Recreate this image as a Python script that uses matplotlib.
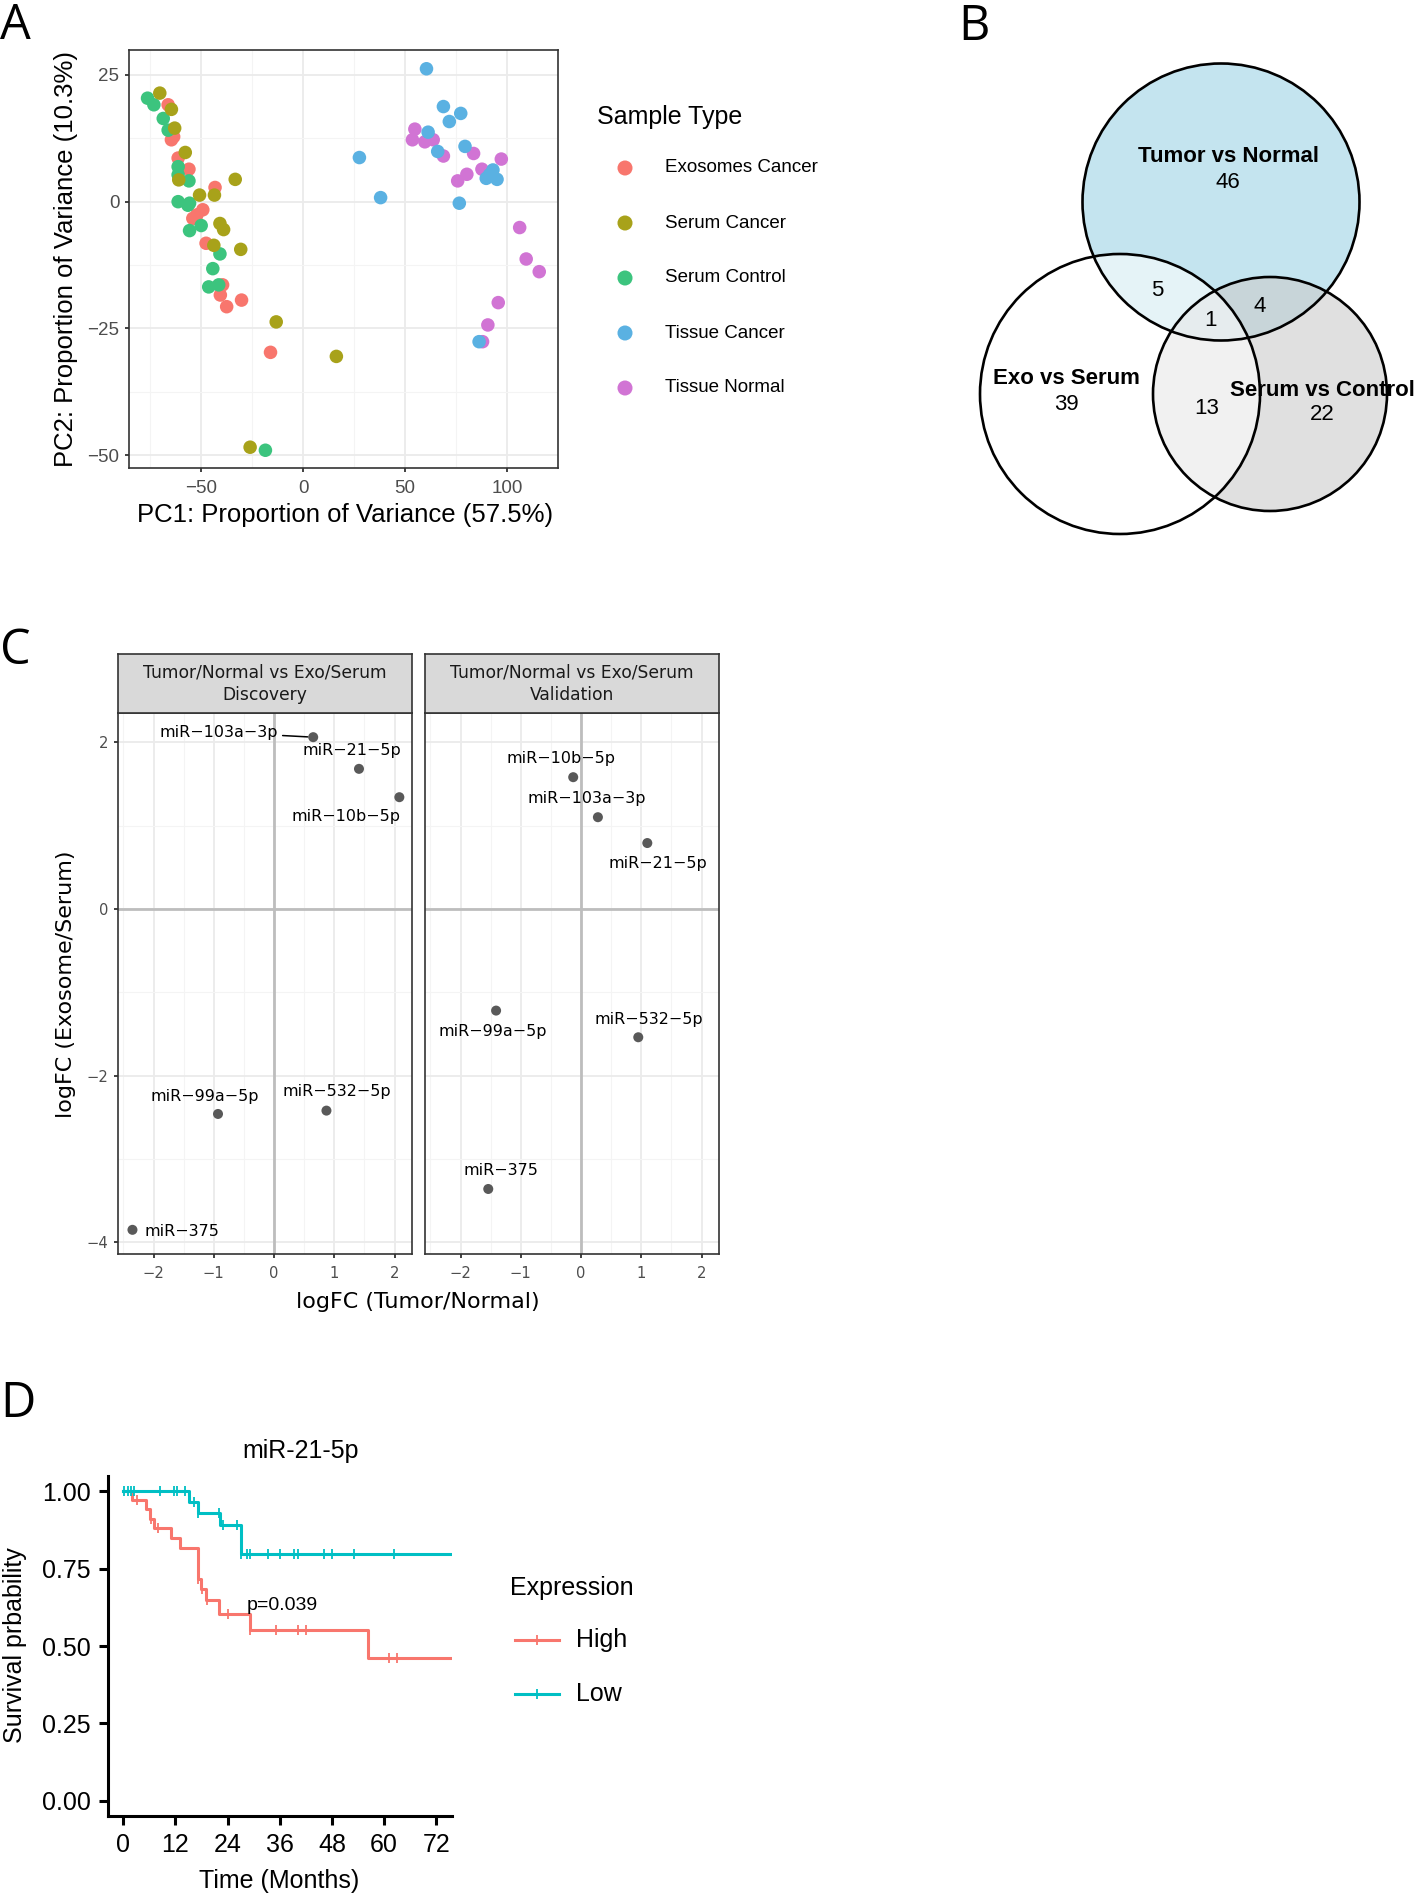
import numpy as np
import matplotlib.pyplot as plt
from matplotlib.patches import Circle
from matplotlib.lines import Line2D

# ---------------- data ----------------
# A: PCA of miRNA profiles
sample_types = ["Exosomes Cancer", "Serum Cancer", "Serum Control", "Tissue Cancer", "Tissue Normal"]
type_colors = ["#F8766D", "#A8A21A", "#3CC47E", "#5AB1E2", "#D174D4"]

exo_cancer_pc1 = [-66.2, -63.5, -64.6, -61.3, -56.0, -43.2, -49.2, -52.1, -54.1, -47.6, -39.5, -40.6, -37.5, -30.2, -16.0]
exo_cancer_pc2 = [19.1, 12.8, 12.2, 8.6, 6.4, 2.8, -1.6, -2.6, -3.3, -8.2, -16.4, -18.4, -20.7, -19.4, -29.7]
serum_cancer_pc1 = [-70.3, -64.6, -63.0, -57.8, -61.0, -33.3, -43.5, -50.8, -40.8, -39.0, -43.8, -30.6, -13.2, 16.3, -26.0]
serum_cancer_pc2 = [21.4, 18.2, 14.5, 9.7, 4.3, 4.4, 1.3, 1.3, -4.3, -5.5, -8.6, -9.4, -23.7, -30.5, -48.4]
serum_control_pc1 = [-76.3, -73.2, -68.6, -66.2, -61.3, -61.3, -56.0, -61.3, -56.5, -55.7, -55.7, -50.0, -40.8, -44.3, -46.3, -41.4, -18.5]
serum_control_pc2 = [20.4, 19.1, 16.4, 14.1, 6.9, 5.3, 4.1, 0.0, -0.7, -0.3, -5.7, -4.7, -10.3, -13.2, -16.8, -16.4, -49.0]
tissue_cancer_pc1 = [60.5, 68.8, 77.3, 71.7, 61.3, 66.0, 79.4, 27.6, 38.0, 76.6, 89.8, 93.1, 95.1, 91.4, 86.3]
tissue_cancer_pc2 = [26.2, 18.75, 17.4, 15.8, 13.7, 9.9, 10.9, 8.7, 0.8, -0.3, 4.6, 6.25, 4.4, 5.3, -27.6]
tissue_normal_pc1 = [54.8, 53.6, 59.7, 63.8, 68.8, 83.6, 87.7, 80.3, 75.8, 97.2, 106.2, 109.4, 115.8, 95.7, 90.6, 88.0]
tissue_normal_pc2 = [14.3, 12.2, 11.8, 12.2, 9.0, 9.5, 6.4, 5.4, 4.1, 8.4, -5.1, -11.3, -13.8, -19.9, -24.3, -27.6]

# B: Venn counts
venn_names = ["Tumor vs Normal", "Exo vs Serum", "Serum vs Control"]
venn_only = [46, 39, 22]
n_tumor_exo = 5
n_tumor_serum = 4
n_exo_serum = 13
n_all = 1

# C: logFC comparison
mirs = ["miR\u2212103a\u22123p", "miR\u221221\u22125p", "miR\u221210b\u22125p",
        "miR\u221299a\u22125p", "miR\u2212532\u22125p", "miR\u2212375"]
disc_tn = [0.65, 1.41, 2.08, -0.93, 0.87, -2.35]
disc_es = [2.06, 1.68, 1.34, -2.46, -2.42, -3.85]
val_tn = [0.28, 1.10, -0.13, -1.41, 0.95, -1.54]
val_es = [1.10, 0.79, 1.58, -1.22, -1.54, -3.36]
disc_lab_x = [-0.91, 1.29, 1.20, -1.15, 1.05, -1.53]
disc_lab_y = [2.12, 1.90, 1.11, -2.25, -2.19, -3.87]
val_lab_x = [0.09, 1.27, -0.34, -1.47, 1.12, -1.33]
val_lab_y = [1.32, 0.55, 1.80, -1.47, -1.33, -3.14]

# D: Kaplan-Meier, miR-21-5p
high_t = [0, 2.0, 5.3, 6.2, 7.0, 11.1, 13.1, 17.2, 18.0, 19.0, 22.0, 29.1, 56.3, 80]
high_s = [1.0, 0.972, 0.942, 0.912, 0.881, 0.849, 0.817, 0.717, 0.685, 0.648, 0.602, 0.551, 0.461, 0.461]
high_cens_t = [3.1, 6.3, 8.1, 17.2, 18.2, 19.2, 24.1, 29.1, 35.2, 40.1, 42.1, 61.2, 62.9]
low_t = [0, 15.2, 17.1, 22.2, 27.1, 80]
low_s = [1.0, 0.965, 0.931, 0.893, 0.798, 0.798]
low_cens_t = [0.15, 1.07, 1.83, 2.6, 8.4, 11.6, 12.3, 14.2, 16.2, 17.1, 22.0, 23.0, 26.2,
              27.1, 28.4, 29.1, 33.2, 36.1, 39.3, 40.1, 46.2, 48.1, 53.0, 62.2]
p_value = 0.039

# ---------------- figure ----------------
W, H = 1416, 1895
fig = plt.figure(figsize=(W / 100, H / 100), dpi=100)
SANS = ["Liberation Sans", "DejaVu Sans"]
DJ = ["DejaVu Sans"]


def px_axes(x0, y0, x1, y1, **kw):
    return fig.add_axes([x0 / W, 1 - y1 / H, (x1 - x0) / W, (y1 - y0) / H], **kw)


def surv_at(times, surv, pts):
    # survival level of a step curve at each censoring time
    return [surv[np.searchsorted(times, t, side="right") - 1] for t in pts]


ov = px_axes(0, 0, W, H, zorder=-5)
ov.set_xlim(0, W)
ov.set_ylim(H, 0)
ov.axis("off")

for lab, x, y in [("A", 0, 39), ("B", 958, 40), ("C", 0, 664), ("D", 0, 1417)]:
    ov.text(x, y, lab, fontsize=35, family=["Open Sans", "DejaVu Sans"], va="baseline", ha="left")


def bw_style(ax, fam, tsize, pad):
    for s in ax.spines.values():
        s.set_color("#333333")
        s.set_linewidth(1.2)
    ax.grid(which="major", color="#ebebeb", lw=1.3, zorder=0)
    ax.grid(which="minor", color="#f4f4f4", lw=0.8, zorder=0)
    ax.set_axisbelow(True)
    ax.tick_params(which="major", length=3, width=1.3, color="#333333", labelsize=tsize,
                   labelcolor="#4d4d4d", pad=pad)
    ax.tick_params(which="minor", length=0)
    for t in ax.get_xticklabels() + ax.get_yticklabels():
        t.set_family(fam)


# ---- A ----
axA = px_axes(129, 50, 558, 468)
groups = [(exo_cancer_pc1, exo_cancer_pc2, 0), (serum_control_pc1, serum_control_pc2, 2),
          (serum_cancer_pc1, serum_cancer_pc2, 1), (tissue_normal_pc1, tissue_normal_pc2, 4),
          (tissue_cancer_pc1, tissue_cancer_pc2, 3)]
for xs, ys, k in groups:
    axA.scatter(xs, ys, s=95, color=type_colors[k], edgecolors="none", zorder=3)
axA.set_xlim(-85.4, 125)
axA.set_ylim(-52.5, 29.9)
axA.set_xticks([-50, 0, 50, 100])
axA.set_xticks([-75, -25, 25, 75, 125], minor=True)
axA.set_yticks([-50, -25, 0, 25])
axA.set_yticks([-37.5, -12.5, 12.5], minor=True)
bw_style(axA, SANS, 13.5, 4)
axA.tick_params(axis="x", pad=5.5)
ov.text(345, 515, "PC1: Proportion of Variance (57.5%)", fontsize=18.5, family=SANS, ha="center", va="center")
ov.text(66, 259, "PC2: Proportion of Variance (10.3%)", fontsize=18.5, family=SANS, ha="center",
        va="center", rotation=90)
ov.text(597, 117, "Sample Type", fontsize=18, family=SANS, ha="left", va="center")
for i, name in enumerate(sample_types):
    y = 168 + i * 55
    ov.scatter([625], [y], s=117, color=type_colors[i], edgecolors="none")
    ov.text(665, y, name, fontsize=13.5, family=SANS, ha="left", va="center")

# ---- B ----
ov.add_patch(Circle((1221, 202), 138.5, facecolor="#c4e4ef", edgecolor="none"))
ov.add_patch(Circle((1270, 394), 117, facecolor="#cbcbcb", alpha=0.59, edgecolor="none"))
ov.add_patch(Circle((1120, 394), 140, facecolor="white", alpha=0.56, edgecolor="none"))
for cx, cy, r in [(1221, 202, 138.5), (1270, 394, 117), (1120, 394, 140)]:
    ov.add_patch(Circle((cx, cy), r, facecolor="none", edgecolor="black", lw=1.9))
vb = dict(fontsize=16, family=SANS, ha="center", va="center")
ov.text(1228, 157, venn_names[0], fontweight="bold", **vb)
ov.text(1228, 182, str(venn_only[0]), **vb)
ov.text(1066, 379, venn_names[1], fontweight="bold", **vb)
ov.text(1066, 405, str(venn_only[1]), **vb)
ov.text(1322, 390, venn_names[2], fontweight="bold", **vb)
ov.text(1322, 414, str(venn_only[2]), **vb)
ov.text(1157, 291, str(n_tumor_exo), **vb)
ov.text(1260, 307, str(n_tumor_serum), **vb)
ov.text(1207, 408, str(n_exo_serum), **vb)
ov.text(1211, 320, str(n_all), **vb)

# ---- C ----
panels = [(118, 412, "Tumor/Normal vs Exo/Serum\nDiscovery", disc_tn, disc_es, disc_lab_x, disc_lab_y),
          (425, 719, "Tumor/Normal vs Exo/Serum\nValidation", val_tn, val_es, val_lab_x, val_lab_y)]
for j, (x0, x1, title, tx, ty, lx, ly) in enumerate(panels):
    ax = px_axes(x0, 713, x1, 1254)
    ax.axhline(0, color="#bdbdbd", lw=2, zorder=1)
    ax.axvline(0, color="#bdbdbd", lw=2, zorder=1)
    ax.scatter(tx, ty, s=52, color="#595959", edgecolors="none", zorder=3)
    for i, name in enumerate(mirs):
        if j == 0 and i == 0:
            ax.annotate(name, xy=(tx[i], ty[i]), xytext=(lx[i], ly[i]), fontsize=11.5, family=DJ,
                        ha="center", va="center",
                        arrowprops=dict(arrowstyle="-", color="black", lw=1.1, shrinkA=1, shrinkB=4))
        else:
            ax.text(lx[i], ly[i], name, fontsize=11.5, family=DJ, ha="center", va="center")
    ax.set_xlim(-2.59, 2.29)
    ax.set_ylim(-4.14, 2.35)
    ax.set_xticks([-2, -1, 0, 1, 2])
    ax.set_xticks([-2.5, -1.5, -0.5, 0.5, 1.5], minor=True)
    ax.set_yticks([-4, -2, 0, 2])
    ax.set_yticks([-3, -1, 1], minor=True)
    bw_style(ax, DJ, 10.6, 4)
    ax.tick_params(axis="x", pad=6)
    if j == 1:
        ax.tick_params(axis="y", left=False, labelleft=False)
    st = px_axes(x0, 654, x1, 713)
    st.set_facecolor("#d9d9d9")
    st.set_xticks([])
    st.set_yticks([])
    for s in st.spines.values():
        s.set_color("#333333")
        s.set_linewidth(1.2)
    st.text(0.5, 0.5, title, transform=st.transAxes, ha="center", va="center", fontsize=12.3,
            family=DJ, color="#1a1a1a", linespacing=1.3)
ov.text(418, 1302, "logFC (Tumor/Normal)", fontsize=16, family=DJ, ha="center", va="center")
ov.text(66, 984, "logFC (Exosome/Serum)", fontsize=16, family=DJ, ha="center", va="center", rotation=90)

# ---- D ----
axD = px_axes(107.5, 1476, 452, 1816)
red, teal = "#F8766D", "#00BFC4"
axD.step(high_t, high_s, where="post", color=red, lw=2.2, zorder=3)
axD.plot(high_cens_t, surv_at(high_t, high_s, high_cens_t),
         ls="none", marker="|", ms=7, mew=1.3, color=red, zorder=3)
axD.step(low_t, low_s, where="post", color=teal, lw=2.2, zorder=4)
axD.plot(low_cens_t, surv_at(low_t, low_s, low_cens_t),
         ls="none", marker="|", ms=7, mew=1.3, color=teal, zorder=4)
axD.set_xlim(-3.6, 75.6)
axD.set_ylim(-0.05, 1.05)
axD.set_xticks(np.arange(0, 73, 12))
axD.set_yticks([0, 0.25, 0.5, 0.75, 1.0])
axD.set_yticklabels(["0.00", "0.25", "0.50", "0.75", "1.00"])
for side in ("top", "right"):
    axD.spines[side].set_visible(False)
for side in ("left", "bottom"):
    axD.spines[side].set_linewidth(2.2)
axD.tick_params(length=6.5, width=2.2, labelsize=18, pad=5.5)
for t in axD.get_xticklabels() + axD.get_yticklabels():
    t.set_family(SANS)
axD.text(28.5, 0.63, f"p={p_value}", fontsize=14, family=SANS, ha="left", va="center")
ov.text(301, 1451, "miR-21-5p", fontsize=18, family=SANS, ha="center", va="center")
ov.text(279, 1881, "Time (Months)", fontsize=18, family=SANS, ha="center", va="center")
ov.text(15, 1645, "Survival prbability", fontsize=18, family=SANS, ha="center", va="center", rotation=90)
ov.text(510, 1588, "Expression", fontsize=18, family=SANS, ha="left", va="center")
for lab, col, y in [("High", red, 1639.5), ("Low", teal, 1694)]:
    ov.add_line(Line2D([515, 559], [y, y], color=col, lw=2.2))
    ov.add_line(Line2D([537], [y], color=col, marker="|", ms=7, mew=1.3))
    ov.text(576, y, lab, fontsize=18, family=SANS, ha="left", va="center")

fig.savefig("out.png", dpi=100)
